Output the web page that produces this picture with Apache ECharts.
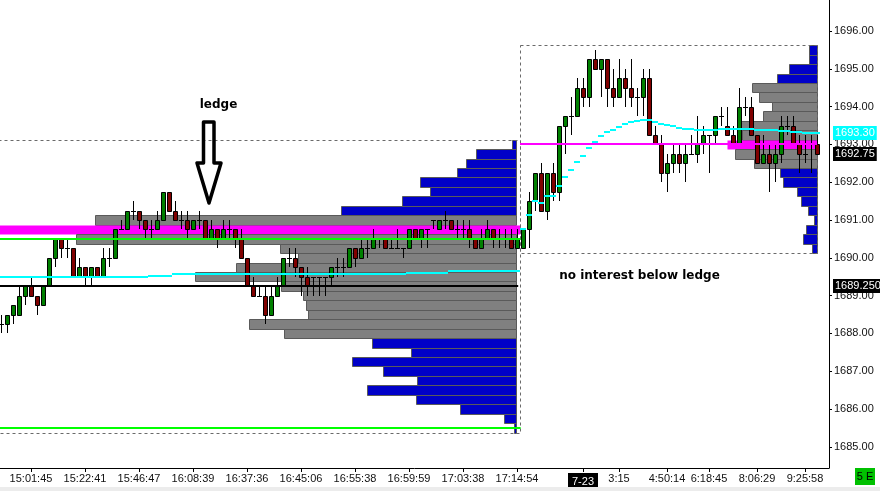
<!DOCTYPE html>
<html><head><meta charset="utf-8">
<script src="https://cdn.jsdelivr.net/npm/echarts@6/dist/echarts.min.js"></script>
<style>html,body{margin:0;padding:0;background:#fff}#c{width:880px;height:491px}</style>
</head><body><div id="c"></div>
<script>
// ---------- DATA ----------
const tickIdx = [5,14,23,32,41,50,59,68,77,86,97,103,111,118,126,134];
const tickLabels = ['15:01:45','15:22:41','15:46:47','16:08:39','16:37:36','16:45:06','16:55:38','16:59:59','17:03:38','17:14:54','7-23','3:15','4:50:14','6:18:45','8:06:29','9:25:58'];
const priceTicks = [1685,1686,1687,1688,1689,1690,1691,1692,1693,1694,1695,1696];

// candles [open, high, low, close], one per bar
const candles = [
[1688.25,1688.5,1688.0,1688.25],[1688.25,1688.5,1688.0,1688.5],[1688.5,1688.75,1688.25,1688.75],[1688.5,1689.25,1688.5,1689.0],
[1689.0,1689.25,1688.75,1689.25],[1689.25,1689.5,1689.0,1689.0],[1689.0,1689.0,1688.5,1688.75],[1688.75,1689.25,1688.75,1689.25],
[1689.25,1690.0,1689.25,1690.0],[1690.0,1690.5,1689.75,1690.5],[1690.5,1690.5,1690.0,1690.25],[1690.25,1690.5,1690.0,1690.25],
[1690.25,1690.25,1689.5,1689.5],[1689.5,1690.0,1689.5,1689.75],[1689.75,1689.75,1689.25,1689.5],[1689.5,1689.75,1689.25,1689.75],
[1689.75,1689.75,1689.5,1689.5],[1689.5,1690.25,1689.5,1690.0],[1690.0,1690.25,1689.75,1690.0],[1690.0,1690.75,1690.0,1690.75],
[1690.75,1691.0,1690.75,1690.75],[1690.75,1691.25,1690.75,1691.25],[1691.25,1691.5,1691.0,1691.25],[1691.25,1691.25,1690.75,1691.0],
[1691.0,1691.0,1690.5,1690.75],[1690.75,1691.0,1690.5,1690.75],[1690.75,1691.25,1690.75,1691.0],[1691.0,1691.75,1691.0,1691.75],
[1691.75,1691.75,1691.25,1691.25],[1691.25,1691.5,1691.0,1691.0],[1691.0,1691.25,1690.75,1691.0],[1691.0,1691.25,1690.5,1690.75],
[1690.75,1691.0,1690.75,1691.0],[1691.0,1691.25,1690.75,1691.0],[1691.0,1691.0,1690.5,1690.5],[1690.5,1691.0,1690.5,1690.75],
[1690.75,1690.75,1690.25,1690.5],[1690.5,1691.0,1690.5,1690.75],[1690.75,1691.0,1690.5,1690.75],[1690.75,1690.75,1690.25,1690.5],
[1690.5,1690.75,1690.0,1690.0],[1690.0,1690.0,1689.25,1689.25],[1689.25,1689.5,1689.0,1689.0],[1689.0,1689.25,1689.0,1689.0],
[1689.0,1689.25,1688.25,1688.5],[1688.5,1689.25,1688.5,1689.0],[1689.0,1689.5,1689.0,1689.25],[1689.25,1690.0,1689.25,1690.0],
[1690.0,1690.25,1689.75,1690.0],[1690.0,1690.25,1689.5,1689.75],[1689.75,1689.75,1689.0,1689.5],[1689.5,1689.75,1689.0,1689.25],
[1689.5,1689.5,1689.0,1689.5],[1689.5,1689.5,1689.0,1689.5],[1689.5,1689.5,1689.0,1689.5],[1689.5,1689.75,1689.25,1689.75],
[1689.75,1690.0,1689.5,1689.75],[1689.75,1690.0,1689.5,1689.75],[1689.75,1690.25,1689.75,1690.25],[1690.25,1690.25,1689.75,1690.0],
[1690.0,1690.5,1690.0,1690.25],[1690.25,1690.5,1690.0,1690.25],[1690.25,1690.75,1690.25,1690.5],[1690.5,1690.5,1690.25,1690.5],
[1690.5,1690.5,1690.25,1690.25],[1690.25,1690.5,1690.25,1690.25],[1690.25,1690.75,1690.25,1690.25],[1690.25,1690.25,1690.0,1690.25],
[1690.25,1690.75,1690.25,1690.75],[1690.75,1690.75,1690.5,1690.5],[1690.5,1690.75,1690.25,1690.75],[1690.75,1690.75,1690.25,1690.75],
[1691.0,1691.0,1690.75,1691.0],[1690.75,1691.0,1690.75,1691.0],[1691.0,1691.25,1690.75,1691.0],[1691.0,1691.0,1690.75,1690.75],
[1690.75,1691.0,1690.5,1690.75],[1690.75,1691.0,1690.5,1690.75],[1690.75,1691.0,1690.25,1690.5],[1690.5,1690.5,1690.25,1690.25],
[1690.25,1690.75,1690.25,1690.5],[1690.5,1691.0,1690.5,1690.75],[1690.75,1690.75,1690.25,1690.5],[1690.5,1690.75,1690.25,1690.5],
[1690.5,1690.75,1690.25,1690.5],[1690.5,1690.75,1690.25,1690.25],[1690.25,1690.75,1690.25,1690.5],[1690.25,1690.75,1690.25,1690.75],
[1690.75,1691.75,1690.25,1691.5],[1691.5,1692.25,1691.25,1692.25],[1692.25,1692.5,1691.25,1691.25],[1691.25,1692.25,1691.0,1692.25],
[1692.25,1692.5,1691.5,1691.75],[1691.75,1693.5,1691.5,1693.5],[1693.5,1693.75,1692.75,1693.75],[1693.75,1694.25,1693.25,1693.75],
[1693.75,1694.75,1693.75,1694.5],[1694.5,1694.75,1694.0,1694.25],[1694.25,1695.25,1694.0,1695.25],[1695.25,1695.5,1695.0,1695.0],
[1695.0,1695.25,1694.25,1695.25],[1695.25,1695.25,1694.0,1694.5],[1694.5,1695.0,1694.0,1694.25],[1694.25,1695.25,1694.25,1694.75],
[1694.75,1695.0,1694.0,1694.5],[1694.5,1695.25,1694.0,1694.25],[1694.25,1694.5,1693.75,1694.25],[1694.25,1695.0,1693.75,1694.75],
[1694.75,1695.0,1693.25,1693.25],[1693.25,1693.5,1693.0,1693.0],[1693.0,1693.25,1692.0,1692.25],[1692.25,1692.75,1691.75,1692.5],
[1692.5,1693.0,1692.25,1692.75],[1692.75,1693.0,1692.25,1692.5],[1692.5,1693.0,1692.0,1692.75],[1692.75,1693.25,1692.75,1692.75],
[1692.75,1693.75,1692.5,1693.0],[1693.0,1693.5,1692.75,1693.25],[1693.25,1693.25,1692.25,1693.25],[1693.25,1693.75,1693.0,1693.75],
[1693.75,1694.0,1693.5,1693.75],[1693.5,1694.0,1693.25,1693.25],[1693.25,1693.5,1693.0,1693.0],[1693.0,1694.5,1693.0,1694.0],
[1694.0,1694.25,1693.75,1694.0],[1694.0,1694.25,1693.25,1693.25],[1693.25,1693.25,1692.5,1692.5],[1692.5,1693.25,1692.5,1692.75],
[1692.75,1693.0,1691.75,1692.5],[1692.5,1693.0,1692.0,1692.75],[1692.75,1693.75,1692.5,1693.5],[1693.5,1693.75,1693.25,1693.5],
[1693.5,1693.75,1693.0,1693.0],[1693.0,1693.25,1692.25,1692.75],[1692.75,1693.25,1692.5,1692.75],[1693.0,1693.25,1692.25,1693.0],
[1693.0,1693.25,1692.75,1692.75]
];

const session1 = [0, 86];
const session2 = [87, 136];

// VWAP per bar
const vwap1 = [
1689.48,1689.48,1689.48,1689.48,1689.48,1689.48,1689.48,1689.48,1689.48,1689.48,1689.48,1689.48,1689.48,1689.48,1689.48,1689.48,1689.48,1689.48,1689.48,
1689.50,1689.50,1689.50,1689.50,1689.50,1689.50,
1689.53,1689.53,1689.53,1689.53,
1689.56,1689.56,1689.56,1689.56,1689.56,1689.56,1689.56,
1689.575,1689.575,1689.575,1689.575,1689.575,1689.575,1689.575,1689.575,1689.575,1689.575,1689.575,1689.575,1689.575,1689.575,1689.575,1689.575,
1689.575,1689.575,1689.575,1689.575,1689.575,1689.575,1689.575,1689.575,1689.575,1689.575,1689.575,1689.575,1689.575,1689.575,1689.575,1689.575,
1689.61,1689.61,1689.61,1689.61,1689.61,1689.61,1689.61,
1689.64,1689.64,1689.64,1689.64,1689.64,1689.64,1689.64,1689.64,1689.64,1689.64,1689.64,
1689.66
];
const vwap2 = [
1690.76,1691.14,1691.51,1691.46,1691.64,1691.64,1691.90,1692.15,1692.32,1692.54,
1692.70,1692.91,1693.07,1693.22,1693.33,1693.38,1693.46,1693.53,1693.58,1693.61,
1693.65,1693.65,1693.60,1693.55,1693.51,1693.49,1693.44,1693.42,1693.42,1693.39,
1693.39,1693.39,1693.39,1693.42,1693.42,1693.42,1693.42,1693.42,1693.42,1693.39,
1693.39,1693.38,1693.38,1693.35,1693.35,1693.33,1693.32,1693.31,1693.30,1693.30
];

// volume profiles (price rows, volume in bar-widths)
const profile1Prices = [1693.0,1692.75,1692.5,1692.25,1692.0,1691.75,1691.5,1691.25,1691.0,1690.75,1690.5,1690.25,1690.0,1689.75,1689.5,1689.25,1689.0,1688.75,1688.5,1688.25,1688.0,1687.75,1687.5,1687.25,1687.0,1686.75,1686.5,1686.25,1686.0,1685.75,1685.5];
const profile1Vols   = [0.7,6.7,8.4,9.8,16.0,14.3,19.0,29.2,70.2,95,73.3,39.3,36.3,46.7,53.5,39.2,35.5,35.0,34.7,44.5,38.7,24.0,17.5,27.3,22.2,16.5,24.8,16.7,9.3,2.0,0.3];
const profile1POC = 1690.75;
const profile1VA = [1688.0, 1691.0];

const profile2Prices = [1695.5,1695.25,1695.0,1694.75,1694.5,1694.25,1694.0,1693.75,1693.5,1693.25,1693.0,1692.75,1692.5,1692.25,1692.0,1691.75,1691.5,1691.25,1691.0,1690.75,1690.5,1690.25];
const profile2Vols   = [1.3,1.3,4.6,6.6,10.75,9.6,7.4,8.9,12.6,12.4,14.9,13.6,10.4,6.1,5.6,3.25,2.6,1.4,0.4,1.75,2.25,0.75];
const profile2POC = 1693.0;
const profile2VA = [1692.5, 1694.5];

const greenLevels = [1690.5, 1685.5];
const blackLevel = 1689.25;
const session2POCLine = 1693.0;

// ---------- LAYOUT / STYLE ----------
const X_MIN = -1/6, X_MAX = 138;
const Y_MIN = 1684.44, Y_MAX = 1696.82;
const anchor1 = session1[1] - 0.17;
const anchor2 = session2[1] - 0.08;
const FONT = '"Liberation Sans", Arial, sans-serif';
const s1L = session1[0] - 0.5, s1R = session1[1] + 0.5;
const s2L = session2[0] - 0.5, s2R = anchor2 + 0.1;

function candleSeries() {
  return {
    type: 'custom', z: 3, clip: true,
    data: candles.map((d, i) => [i, d[0], d[1], d[2], d[3]]),
    renderItem(params, api) {
      const i = api.value(0), o = api.value(1), h = api.value(2), l = api.value(3), c = api.value(4);
      const pO = api.coord([i, o]), pC = api.coord([i, c]), pH = api.coord([i, h]), pL = api.coord([i, l]);
      const cx = Math.round(pO[0]);
      const kids = [{type:'line', shape:{x1:cx+0.5, y1:Math.round(pH[1]), x2:cx+0.5, y2:Math.round(pL[1])}, style:{stroke:'#000', lineWidth:1}}];
      if (o === c) {
        const y = Math.round(pO[1]) + 0.5;
        kids.push({type:'line', shape:{x1:cx-2, y1:y, x2:cx+3, y2:y}, style:{stroke:'#000', lineWidth:1}});
      } else {
        const y0 = Math.round(Math.min(pO[1], pC[1])), y1 = Math.round(Math.max(pO[1], pC[1]));
        kids.push({type:'rect', shape:{x:cx-1.5, y:y0+0.5, width:4, height:y1-y0}, style:{fill: c > o ? '#008000' : '#800000', stroke:'#000', lineWidth:1}});
      }
      return {type:'group', children: kids};
    }
  };
}

function profileSeries(prices, vols, anchor, va, poc, pocRight) {
  return {
    type:'custom', z:1, clip:true,
    data: prices.map((p, k) => [anchor - vols[k], p, p === poc ? pocRight : anchor]),
    renderItem(params, api) {
      const x0 = api.value(0), p = api.value(1), x1 = api.value(2);
      const a = api.coord([x0, p + 0.125]), b = api.coord([x1, p - 0.125]);
      const ya = Math.round(a[1]), yb = Math.round(b[1]);
      const xa = Math.round(a[0]), xb = Math.round(b[0]);
      let style;
      if (p === poc) style = {fill:'#ff00ff'};
      else if (p >= va[0] && p <= va[1]) style = {fill:'#808080', stroke:'#5a5a5a', lineWidth:1};
      else style = {fill:'#0000c8', stroke:'#5a5a5a', lineWidth:1};
      return {type:'rect', shape:{x:xa+0.5, y:ya+0.5, width:xb-xa, height:yb-ya}, style};
    }
  };
}

function hlineSeries(items, color, width, z) {
  return {
    type:'custom', z, clip:true, data: items,
    renderItem(params, api) {
      const a = api.coord([api.value(0), api.value(2)]), b = api.coord([api.value(1), api.value(2)]);
      const y = Math.round(a[1]);
      return {type:'line', shape:{x1:a[0], y1:y, x2:b[0], y2:y}, style:{stroke:color, lineWidth:width}};
    }
  };
}

function vwapSeries(vals, start, halfL, halfR, width) {
  return {
    type:'custom', z:4, clip:true,
    data: vals.map((v, k) => [start + k, v]),
    renderItem(params, api) {
      const i = api.value(0), v = api.value(1);
      const a = api.coord([i - halfL, v]), b = api.coord([i + halfR, v]);
      const y = Math.round(a[1]);
      return {type:'line', shape:{x1:Math.round(a[0]), y1:y, x2:Math.round(b[0]), y2:y}, style:{stroke:'#00ffff', lineWidth:width}};
    }
  };
}

function boxSeries(boxes) {
  return {
    type:'custom', z:2, clip:true, data: boxes,
    renderItem(params, api) {
      const a = api.coord([api.value(0), api.value(2)]), b = api.coord([api.value(1), api.value(3)]);
      const xa = Math.round(a[0]), xb = Math.round(b[0]), ya = Math.round(a[1]), yb = Math.round(b[1]);
      return {type:'rect', shape:{x:xa+0.5, y:ya+0.5, width:xb-xa, height:yb-ya},
        style:{fill:null, stroke:'#6a6a6a', lineWidth:1, lineDash:[3,3]}};
    }
  };
}

const lastClose = candles[candles.length-1][3];
const vwapLast = vwap2[vwap2.length-1];
const tagVals = [vwapLast, lastClose, blackLevel];
const tagTexts = [vwapLast.toFixed(2), lastClose.toFixed(2), blackLevel.toFixed(3)];
const tagBg = ['#00ffff', '#000000', '#000000'];

function tagSeries() {
  return {
    type:'custom', z:20, clip:false,
    data: tagVals.map((v, k) => [X_MAX, v]),
    renderItem(params, api) {
      const k = params.dataIndex;
      const p = api.coord([api.value(0), api.value(1)]);
      return {type:'text', x: p[0] + 4, y: Math.round(p[1]),
        style:{text: tagTexts[k], fill:'#fff', font:'11px ' + FONT, backgroundColor: tagBg[k],
          padding:[2,2,1,2], verticalAlign:'middle', align:'left'}};
    }
  };
}

const prof1Top = Math.max(...profile1Prices) + 0.125, prof1Bot = Math.min(...profile1Prices) - 0.125;
const prof2Top = Math.max(...profile2Prices) + 0.125, prof2Bot = Math.min(...profile2Prices) - 0.125;

const option = {
  animation: false,
  backgroundColor: '#ffffff',
  grid: {left: 0, right: 51, top: 0, bottom: 23, containLabel: false},
  xAxis: {
    type:'value', min: X_MIN, max: X_MAX,
    axisLine:{show:true, onZero:false, lineStyle:{color:'#000', width:1}},
    axisTick:{show:true, length:4, customValues: tickIdx, lineStyle:{color:'#000'}},
    axisLabel:{customValues: tickIdx, margin: 5, color:'#111', fontFamily: FONT, fontSize: 11,
      formatter: v => { const k = tickIdx.indexOf(Math.round(v)); const t = k >= 0 ? tickLabels[k] : ''; return t === '7-23' ? '{d|' + t + '}' : t; },
      rich:{d:{backgroundColor:'#000', color:'#fff', fontFamily: FONT, fontSize: 11, padding:[3,4,2,4]}}},
    splitLine:{show:false}
  },
  yAxis: {
    type:'value', position:'right', min: Y_MIN, max: Y_MAX,
    axisLine:{show:true, onZero:false, lineStyle:{color:'#000', width:1}},
    axisTick:{show:true, length:3, customValues: priceTicks, lineStyle:{color:'#000'}},
    axisLabel:{customValues: priceTicks, margin: 5, color:'#111', fontFamily: FONT, fontSize: 11, formatter: v => v.toFixed(2)},
    splitLine:{show:false}
  },
  series: [
    profileSeries(profile1Prices, profile1Vols, anchor1, profile1VA, profile1POC, s1R),
    profileSeries(profile2Prices, profile2Vols, anchor2, profile2VA, profile2POC, s2R),
    boxSeries([[s1L, s1R, prof1Top, prof1Bot], [s2L, s2R, prof2Top, prof2Bot]]),
    candleSeries(),
    hlineSeries([[s1L, s1R + 0.1, greenLevels[0]], [s1L, s1R + 0.1, greenLevels[1]]], '#00ff00', 2, 5),
    hlineSeries([[s1L, s1R - 0.3, blackLevel]], '#000000', 2, 5),
    hlineSeries([[s2L, s2R, session2POCLine]], '#ff00ff', 2, 5),
    vwapSeries(vwap1, session1[0], 0.5, 0.5, 2),
    vwapSeries(vwap2, session2[0], 0.42, 0.42, 2),
    tagSeries()
  ],
  graphic: [
    {type:'text', x: 218.5, y: 105, z: 50, style:{text:'ledge', font:'bold 12px "DejaVu Sans", sans-serif', fill:'#000', align:'center', verticalAlign:'middle'}},
    {type:'polygon', z: 50, shape:{points:[[203.5,122],[214,122],[214,163],[221,163],[209,203],[197,163],[203.5,163]]},
      style:{fill:null, stroke:'#000', lineWidth:3.5, lineJoin:'round'}},
    {type:'text', x: 639.5, y: 276, z: 50, style:{text:'no interest below ledge', font:'bold 12px "DejaVu Sans", sans-serif', fill:'#000', align:'center', verticalAlign:'middle'}},
    {type:'rect', z: 50, shape:{x:0, y:487, width:880, height:4}, style:{fill:'#ececec'}},
    {type:'rect', z: 50, shape:{x:855, y:468, width:20, height:17}, style:{fill:'#00c000'}},
    {type:'text', x: 865, y: 477, z: 51, style:{text:'5 E', font:'11px ' + FONT, fill:'#000', align:'center', verticalAlign:'middle'}}
  ]
};

const chart = echarts.init(document.getElementById('c'));
chart.setOption(option);
</script>
</body></html>
